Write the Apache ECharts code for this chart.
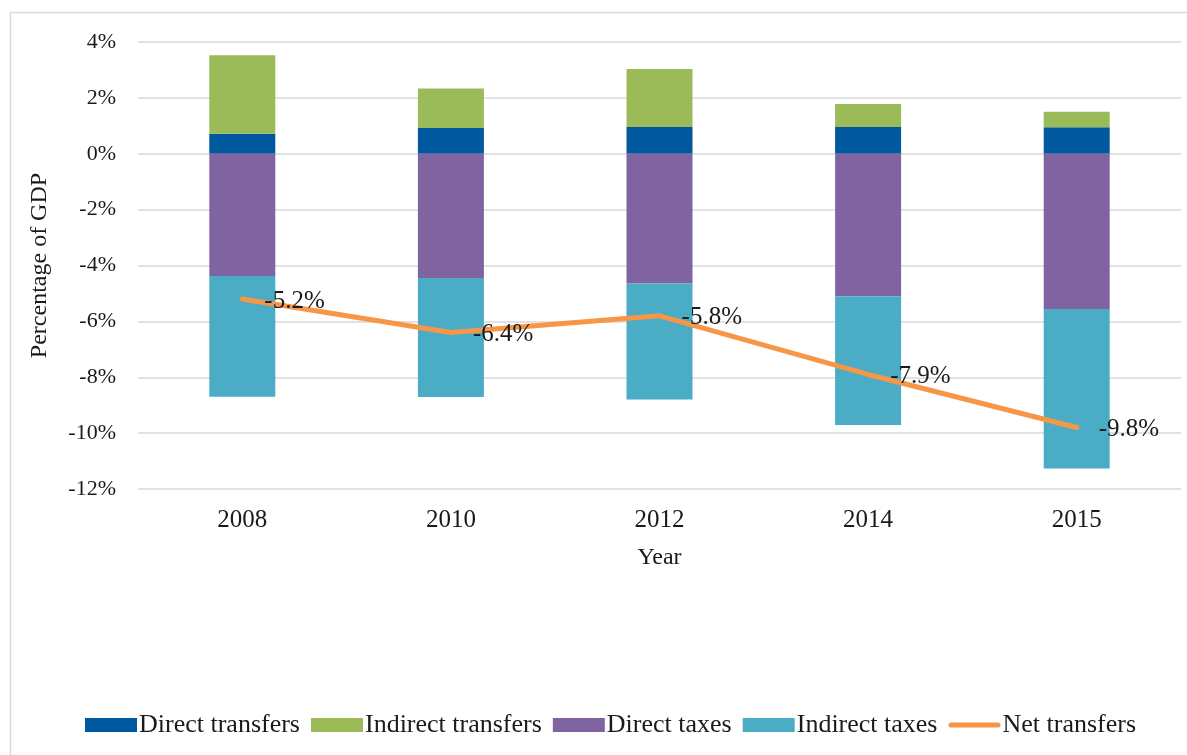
<!DOCTYPE html>
<html>
<head>
<meta charset="utf-8">
<script src="https://cdn.jsdelivr.net/npm/echarts@6/dist/echarts.min.js"></script>
<style>
html,body{margin:0;padding:0;background:#fff;}
#chart{width:1187px;height:755px;}
</style>
</head>
<body>
<div id="chart"></div>
<script>
const years = ['2008', '2010', '2012', '2014', '2015'];
const directTransfers = [0.72, 0.92, 0.96, 0.96, 0.95];
const indirectTransfers = [2.81, 1.42, 2.07, 0.82, 0.55];
const directTaxes = [-4.38, -4.45, -4.64, -5.10, -5.56];
const indirectTaxes = [-4.32, -4.26, -4.16, -4.61, -5.71];
const netTransfers = [-5.2, -6.4, -5.8, -7.9, -9.8];

const FONT = '"Liberation Serif", "DejaVu Serif", serif';
const TXT = '#1a1a1a';
const chart = echarts.init(document.getElementById('chart'));
const barW = 66;
chart.setOption({
  animation: false,
  backgroundColor: '#fff',
  textStyle: { fontFamily: FONT },
  graphic: [{
    type: 'rect',
    shape: { x: 10.5, y: 12.5, width: 1300, height: 900 },
    style: { fill: 'none', stroke: '#d9d9d9', lineWidth: 1.5 },
    silent: true, z: -10
  }],
  grid: { left: 138, right: 6, top: 42, bottom: 266 },
  legend: {
    left: 80, top: 707,
    itemWidth: 52, itemHeight: 14, itemGap: 11,
    textStyle: { fontFamily: FONT, fontSize: 26, color: TXT, padding: [0, 0, 0, -3] },
    data: [
      { name: 'Direct transfers', icon: 'rect' },
      { name: 'Indirect transfers', icon: 'rect' },
      { name: 'Direct taxes', icon: 'rect' },
      { name: 'Indirect taxes', icon: 'rect' },
      { name: 'Net transfers', icon: 'path://M2.5,0 L49.5,0 A2.5,2.5 0 0 1 49.5,5 L2.5,5 A2.5,2.5 0 0 1 2.5,0 Z' }
    ]
  },
  xAxis: {
    type: 'category',
    data: years,
    name: 'Year',
    nameLocation: 'middle',
    nameGap: 57,
    nameTextStyle: { fontFamily: FONT, fontSize: 24, color: TXT },
    axisLine: { show: false },
    axisTick: { show: false },
    axisLabel: { fontFamily: FONT, fontSize: 25, color: TXT, margin: 19 }
  },
  yAxis: {
    type: 'value',
    min: -12, max: 4, interval: 2,
    name: 'Percentage of GDP',
    nameLocation: 'middle',
    nameGap: 86,
    nameTextStyle: { fontFamily: FONT, fontSize: 24, color: TXT },
    axisLine: { show: false },
    axisTick: { show: false },
    axisLabel: { fontFamily: FONT, fontSize: 22, color: TXT, margin: 22, formatter: v => v + '%' },
    splitLine: { lineStyle: { color: '#d9d9d9', width: 1.5 } }
  },
  series: [
    { name: 'Direct transfers', type: 'bar', stack: 's', barWidth: barW, data: directTransfers,
      itemStyle: { color: '#00589f' } },
    { name: 'Indirect transfers', type: 'bar', stack: 's', barWidth: barW, data: indirectTransfers,
      itemStyle: { color: '#9bbb59' } },
    { name: 'Direct taxes', type: 'bar', stack: 's', barWidth: barW, data: directTaxes,
      itemStyle: { color: '#8064a2' } },
    { name: 'Indirect taxes', type: 'bar', stack: 's', barWidth: barW, data: indirectTaxes,
      itemStyle: { color: '#4bacc6' } },
    { name: 'Net transfers', type: 'line', data: netTransfers,
      symbol: 'circle', symbolSize: 0.1, showSymbol: true, z: 5,
      lineStyle: { color: '#f79646', width: 5, cap: 'round' },
      itemStyle: { color: '#f79646' },
      label: { show: true, position: 'right', distance: 22, offset: [0, 2],
        fontFamily: FONT, fontSize: 25, color: TXT,
        formatter: p => p.value.toFixed(1) + '%' } }
  ]
});
</script>
</body>
</html>
